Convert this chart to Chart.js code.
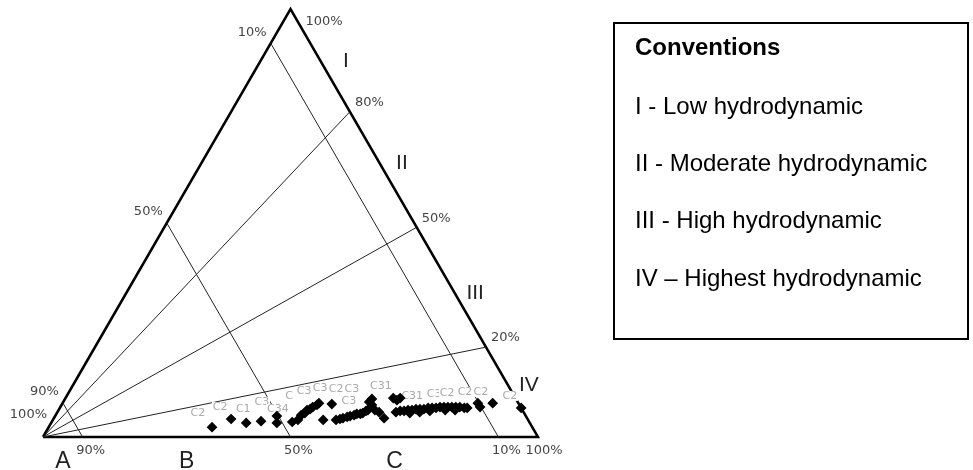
<!DOCTYPE html>
<html>
<head>
<meta charset="utf-8">
<script src="https://cdn.jsdelivr.net/npm/chart.js@4"></script>
<style>
  body { margin: 0; background: #fff; }
  #wrap { position: relative; width: 973px; height: 470px; }
  #legendBox {
    position: absolute; left: 613px; top: 22px; width: 356px; height: 318px;
    border: 2px solid #000; box-sizing: border-box;
    font-family: "Liberation Sans", Arial, sans-serif; font-size: 24px; color: #000;
  }
  #legendBox div { position: absolute; left: 20px; line-height: 28px; white-space: nowrap; }
</style>
</head>
<body>
<div id="wrap">
  <canvas id="myChart" width="973" height="470"></canvas>
  <div id="legendBox"></div>
</div>
<script>
// samples: % of the top vertex and % of the bottom-right vertex (rest = vertex A)
const topPct = [2.3, 4.2, 3.3, 3.7, 4.9, 3.3, 3.5, 4.0, 5.1, 5.6, 6.3, 6.5, 7.0, 7.5, 7.9, 4.0, 7.7,
  4.0, 4.2, 4.4, 4.7, 4.9, 5.1, 5.4, 5.4, 5.6, 6.1, 6.3, 8.2, 8.9, 7.5, 6.3, 5.8, 4.4, 9.1, 8.6, 9.1,
  5.8, 6.1, 6.1, 6.3, 6.3, 6.5, 6.5, 6.5, 6.8, 6.8, 6.8, 7.0, 7.0, 7.0, 7.0, 7.0, 7.0, 6.8, 6.8,
  7.9, 7.0, 7.9, 6.8, 5.6, 5.8, 6.1, 6.3, 6.3];
const rightPct = [33.0, 35.9, 39.4, 42.2, 44.8, 45.6, 48.6, 49.5, 49.6, 50.1, 50.2, 50.7, 51.0, 51.6, 51.8, 54.6, 54.5,
  57.2, 57.9, 58.4, 59.1, 59.6, 60.3, 60.7, 61.4, 61.8, 62.2, 62.5, 61.8, 62.0, 62.7, 63.9, 65.0, 66.7, 66.2, 67.2, 67.6,
  68.4, 69.1, 69.9, 70.6, 71.4, 72.1, 72.9, 73.7, 74.4, 75.2, 76.0, 76.7, 77.5, 78.3, 79.1, 79.9, 80.7, 81.7, 82.3,
  83.9, 84.8, 86.9, 93.2, 71.3, 73.2, 75.1, 78.1, 80.1];

// sample names written next to the points
const sampleNames = ['C2', 'C2', 'C1', 'C3', 'C34', 'C', 'C3', 'C3', 'C2', 'C3', 'C3', 'C31', 'C31', 'C3', 'C2', 'C2', 'C2', 'C2'];
const sampleTop = [5.6, 7.0, 6.5, 8.2, 6.5, 9.6, 10.7, 11.4, 11.2, 11.2, 8.4, 11.9, 9.6, 10.0, 10.3, 10.5, 10.5, 9.6];
const sampleRight = [28.5, 32.3, 37.2, 40.1, 44.2, 44.9, 47.4, 50.3, 53.6, 56.8, 57.6, 62.3, 69.8, 74.0, 76.5, 80.0, 83.2, 89.5];

// lines parallel to the right side (constant % of vertex A)
const parallelLevels = [92, 50, 8];
const parallelTicks = ['90%', '50%', '10%'];
// lines from vertex A to the right side (top / (top + right))
const ratioLevels = [76, 49, 21];
const ratioTicks = ['80%', '50%', '20%'];

const baseLetters = ['A', 'B', 'C'];
const zoneTags = ['I', 'II', 'III', 'IV'];
const zoneTop = [87.8, 64.0, 33.6, 12.1];
const zoneRight = [17.3, 40.5, 70.5, 92.1];
const zoneNames = ['I - Low hydrodynamic', 'II - Moderate hydrodynamic', 'III - High hydrodynamic', 'IV \u2013 Highest hydrodynamic'];

const H = 86.6;
function toXY(top, right) {
  return { x: right + top / 2, y: top * H / 100 };
}

// legend box
const box = document.getElementById('legendBox');
const rows = ['Conventions'].concat(zoneNames);
const rowTops = [9, 68, 125, 182, 240];
rows.forEach((t, i) => {
  const d = document.createElement('div');
  d.textContent = t;
  d.style.top = rowTops[i] + 'px';
  if (i === 0) d.style.fontWeight = 'bold';
  box.appendChild(d);
});

const thin = { showLine: true, pointRadius: 0, borderColor: '#222', borderWidth: 1, clip: false };
const datasets = [{
  label: 'samples',
  data: topPct.map((t, i) => toXY(t, rightPct[i])),
  pointStyle: 'rectRot',
  pointRadius: 4.5,
  pointBorderWidth: 1.2,
  backgroundColor: '#000',
  borderColor: '#000',
  clip: false
}];
parallelLevels.forEach(L => {
  datasets.push(Object.assign({ data: [toXY(100 - L, 0), toXY(0, 100 - L)] }, thin));
});
ratioLevels.forEach(s => {
  datasets.push(Object.assign({ data: [toXY(0, 0), toXY(s, 100 - s)] }, thin));
});
datasets.push({
  data: [toXY(0, 0), toXY(0, 100), toXY(100, 0), toXY(0, 0)],
  showLine: true, pointRadius: 0, borderColor: '#000', borderWidth: 2.5, clip: false
});

function pix(chart, p) {
  return { x: chart.scales.x.getPixelForValue(p.x), y: chart.scales.y.getPixelForValue(p.y) };
}

const annotate = {
  id: 'annotate',
  beforeDatasetDraw(chart, args) {
    if (args.index !== 0) return;
    const ctx = chart.ctx;
    ctx.save();
    ctx.font = '11px "DejaVu Sans"';
    ctx.textAlign = 'center';
    ctx.textBaseline = 'middle';
    sampleNames.forEach((name, i) => {
      const p = pix(chart, toXY(sampleTop[i], sampleRight[i]));
      const w = ctx.measureText(name).width;
      ctx.fillStyle = '#fff';
      ctx.fillRect(p.x - w / 2 - 1, p.y - 5, w + 2, 10);
      ctx.fillStyle = '#aaa';
      ctx.fillText(name, p.x, p.y);
    });
    ctx.restore();
  },
  afterDraw(chart) {
    const ctx = chart.ctx;
    ctx.save();
    ctx.textBaseline = 'middle';
    ctx.font = '13px "DejaVu Sans"';
    ctx.fillStyle = '#444';
    parallelLevels.forEach((L, i) => {
      const a = pix(chart, toXY(100 - L, 0));
      ctx.textAlign = 'right';
      ctx.fillText(parallelTicks[i], a.x - 4, a.y - 11);
      const b = pix(chart, toXY(0, 100 - L));
      ctx.textAlign = 'center';
      ctx.fillText(parallelTicks[i], b.x + 8, b.y + 14);
    });
    ratioLevels.forEach((s, i) => {
      const a = pix(chart, toXY(s, 100 - s));
      ctx.textAlign = 'left';
      ctx.fillText(ratioTicks[i], a.x + 5, a.y - 9);
    });
    const A = pix(chart, toXY(0, 0)), R = pix(chart, toXY(0, 100)), T = pix(chart, toXY(100, 0));
    ctx.textAlign = 'left';
    ctx.fillText('100%', T.x + 15, T.y + 13);
    ctx.textAlign = 'right';
    ctx.fillText('100%', A.x + 4, A.y - 22);
    ctx.textAlign = 'center';
    ctx.fillText('100%', R.x + 6, R.y + 14);

    // letters between the base ends of the parallel lines
    const cuts = [0].concat(parallelLevels.map(L => 100 - L));
    ctx.font = '23px "Liberation Sans"';
    ctx.fillStyle = '#222';
    baseLetters.forEach((l, i) => {
      const p0 = pix(chart, toXY(0, cuts[i])), p1 = pix(chart, toXY(0, cuts[i + 1]));
      ctx.fillText(l, (p0.x + p1.x) / 2, p0.y + 25);
    });

    ctx.font = '21px "Liberation Sans"';
    zoneTags.forEach((z, i) => {
      const p = pix(chart, toXY(zoneTop[i], zoneRight[i]));
      ctx.fillText(z, p.x, p.y);
    });
    ctx.restore();
  }
};

const myChart = new Chart(document.getElementById('myChart'), {
  type: 'scatter',
  data: { datasets },
  options: {
    responsive: false,
    animation: false,
    layout: { padding: { left: 43, right: 435, top: 9, bottom: 33 } },
    scales: {
      x: { type: 'linear', min: 0, max: 100, display: false },
      y: { type: 'linear', min: 0, max: H, display: false }
    },
    plugins: { legend: { display: false }, tooltip: { enabled: false } }
  },
  plugins: [annotate]
});
</script>
</body>
</html>
